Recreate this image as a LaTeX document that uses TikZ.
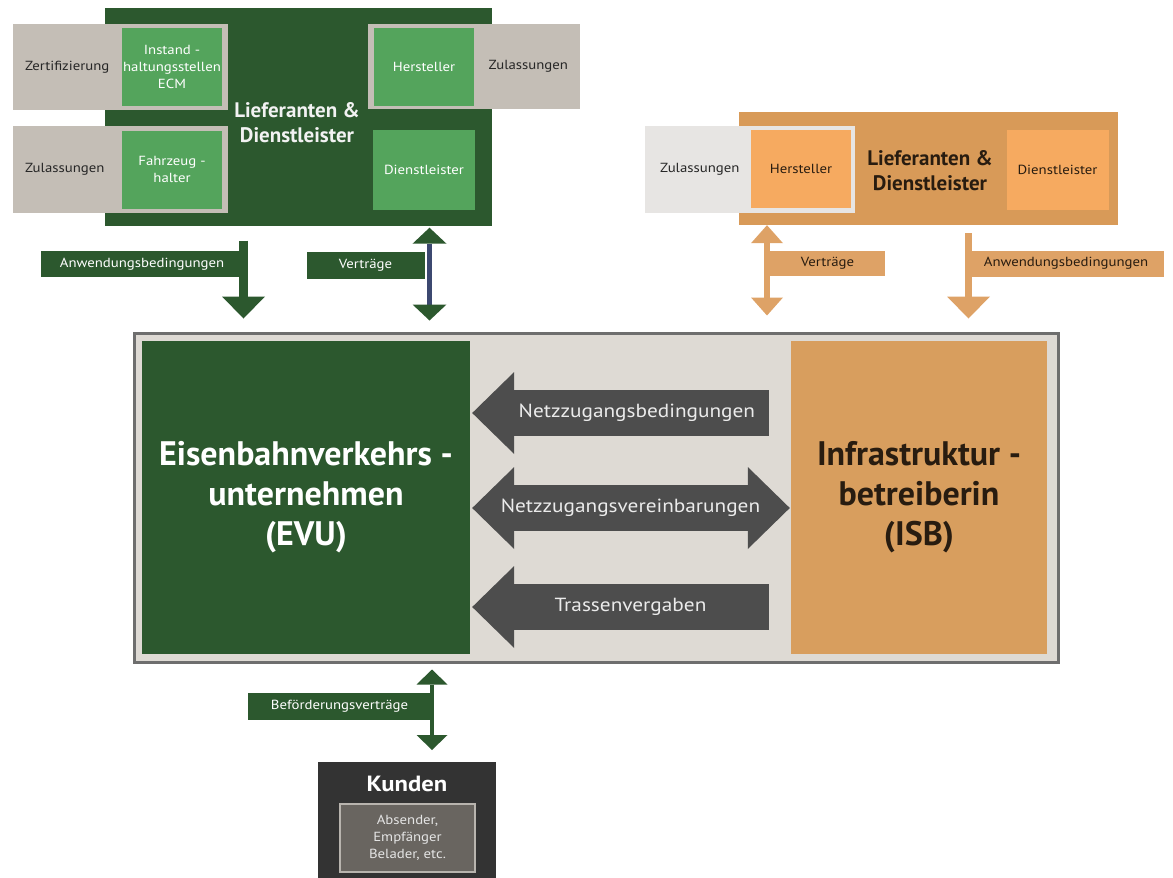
\documentclass[tikz,border=0pt]{standalone}
\usepackage{fontspec}
\setmainfont{PT Sans}
\newfontfamily\widesans{PT Sans}[FakeStretch=1.12]
\usetikzlibrary{arrows.meta}

\definecolor{dgreen}{RGB}{44,88,46}
\definecolor{lgreen}{RGB}{84,164,92}
\definecolor{gbox}{RGB}{196,190,182}
\definecolor{gboxL}{RGB}{231,229,227}
\definecolor{navy}{RGB}{60,72,112}
\definecolor{oblock}{RGB}{216,154,88}
\definecolor{lorange}{RGB}{246,170,96}
\definecolor{isbor}{RGB}{216,158,94}
\definecolor{oarrow}{RGB}{222,162,102}
\definecolor{otext}{RGB}{40,28,16}
\definecolor{frfill}{RGB}{222,218,212}
\definecolor{frline}{RGB}{110,110,110}
\definecolor{agrey}{RGB}{77,77,77}
\definecolor{kgrey}{RGB}{51,51,51}
\definecolor{kin}{RGB}{105,101,96}
\definecolor{kbd}{RGB}{184,180,174}

\newcommand{\fsmall}{\widesans\fontsize{13.2}{17}\selectfont}
\newcommand{\fmid}{\widesans\fontsize{19}{22}\selectfont}
\newcommand{\ftitle}{\fontsize{21}{25}\selectfont\bfseries}
\newcommand{\fkunden}{\widesans\fontsize{22}{25}\selectfont\bfseries}
\newcommand{\fbig}{\fontsize{34}{40}\selectfont\bfseries}

\begin{document}
\begin{tikzpicture}[x=1pt,y=-1pt,
    box/.style={rectangle,inner sep=0pt,align=center},
    greybox/.style={box,fill=gbox,font=\fsmall,text=black!85,inner xsep=12pt},
    lgbox/.style={box,fill=lgreen,draw=gbox,line width=2pt,text=white,font=\fsmall,minimum width=102,minimum height=80},
    lobox/.style={box,fill=lorange,text=otext,font=\fsmall,minimum width=102,minimum height=80},
    glabel/.style={box,fill=dgreen,text=white,font=\fsmall,minimum height=26},
    olabel/.style={box,fill=oarrow,text=otext,font=\fsmall,minimum height=26},
    mlabel/.style={text=white!92!black,font=\fmid},
    mtip/.tip={Triangle[width=82pt,length=42pt,line width=0pt]},
    marrow/.style={draw=agrey,line width=46pt}]
\useasboundingbox (0,0) rectangle (1173,878);

% Lieferanten & Dienstleister (EVU-Seite)
\node[box,fill=dgreen,minimum width=387,minimum height=218] (liefG) at (298.5,116.5) {};
\node[greybox,text width=191pt,minimum height=86,align=left] (zert) at (120.5,67) {Zertifizierung};
\node[greybox,text width=191pt,minimum height=87,align=left] (zul1) at (120.5,169.5) {Zulassungen};
\node[greybox,text width=188pt,minimum height=85,align=right] (zul2) at (474,66.5) {Zulassungen};
\node[lgbox] (ecm) at (172,67) {Instand -\\haltungsstellen\\ECM};
\node[lgbox] (halter) at (172,169.5) {Fahrzeug -\\halter};
\node[lgbox] (herstG) at (424,67) {Hersteller};
\node[lgbox,draw=none] (dienstG) at (424,169.5) {Dienstleister};
\node[box,text=white!95!black,font=\ftitle] (liefGt) at (297,123) {Lieferanten \&\\Dienstleister};

% Lieferanten & Dienstleister (ISB-Seite)
\node[box,fill=oblock,minimum width=379,minimum height=113] (liefO) at (928.5,168.5) {};
\node[greybox,fill=gboxL,inner xsep=15pt,text width=180pt,minimum height=87,align=left] (zul3) at (750,169.5) {Zulassungen};
\node[lobox,draw=gboxL,line width=2pt] (herstO) at (801,169) {Hersteller};
\node[lobox] (dienstO) at (1057.5,169.5) {Dienstleister};
\node[box,text=otext,font=\ftitle] (liefOt) at (930,171) {Lieferanten \&\\Dienstleister};

% EVU und ISB
\node[box,fill=frfill,draw=frline,line width=3pt,minimum width=924,minimum height=329] (rahmen) at (596,497.5) {};
\node[box,fill=dgreen,text=white,font=\fbig,minimum width=328,minimum height=313] (evu) at (306,497.5) {Eisenbahnverkehrs -\\unternehmen\\(EVU)};
\node[box,fill=isbor,text=otext,font=\fbig,minimum width=256,minimum height=313] (isb) at (919,497.5) {Infrastruktur -\\betreiberin\\(ISB)};

% Kunden
\node[box,fill=kgrey,minimum width=178,minimum height=122,anchor=north] (kunden) at (407,762) {};
\node[box,text=white,font=\fkunden] (kundenT) at (407,784) {Kunden};
\node[box,fill=kin,draw=kbd,line width=1.5pt,minimum width=135,minimum height=68,text=white!90!black,font=\fsmall] (kundenI) at (407.5,838) {Absender,\\Empf\"anger\\Belader, etc.};

\coordinate (r1) at (0,413);
\coordinate (r2) at (0,508);
\coordinate (r3) at (0,607);
\coordinate (ca1) at (243.5,0);
\coordinate (cv1) at (429.5,0);
\coordinate (cv2) at (767,0);
\coordinate (ca2) at (968.5,0);
\coordinate (cb) at (432,0);

% Pfeile zwischen EVU und ISB
\draw[marrow,-mtip,shorten <=22pt,shorten >=2pt] (isb.west |- r1) -- (evu.east |- r1)
  node[mlabel,pos=0.48] {Netzzugangsbedingungen};
\draw[marrow,mtip-mtip,shorten <=2pt,shorten >=1pt] (evu.east |- r2) -- (isb.west |- r2)
  node[mlabel,pos=0.5] {Netzzugangsvereinbarungen};
\draw[marrow,-mtip,shorten <=22pt,shorten >=2pt] (isb.west |- r3) -- (evu.east |- r3)
  node[mlabel,pos=0.5] {Trassenvergaben};

% Pfeile oben
\draw[dgreen,line width=9pt,-{Triangle[width=43pt,length=22pt,line width=0pt]},shorten <=15pt,shorten >=13pt]
  (liefG.south -| ca1) -- (rahmen.north -| ca1)
  node[glabel,pos=0.361,anchor=east,xshift=4.5pt,minimum width=203] {Anwendungsbedingungen};
\draw[navy,line width=5pt,{Triangle[width=34pt,length=16pt,line width=0pt,color=dgreen]}-{Triangle[width=34pt,length=16pt,line width=0pt,color=dgreen]},shorten <=2pt,shorten >=11pt]
  (liefG.south -| cv1) -- (rahmen.north -| cv1)
  node[glabel,pos=0.375,anchor=east,xshift=-2.5pt,minimum width=118,minimum height=27] {Vertr\"age};
\draw[oarrow,line width=6pt,{Triangle[width=32pt,length=18pt,line width=0pt]}-{Triangle[width=32pt,length=18pt,line width=0pt]},shorten <=16pt]
  (rahmen.north -| cv2) -- (liefO.south -| cv2)
  node[olabel,pos=0.644,anchor=west,minimum width=115,minimum height=25] {Vertr\"age};
\draw[oarrow,line width=7pt,-{Triangle[width=43pt,length=22pt,line width=0pt]},shorten <=8pt,shorten >=13pt]
  (liefO.south -| ca2) -- (rahmen.north -| ca2)
  node[olabel,pos=0.361,anchor=west,xshift=-3.5pt,minimum width=195] {Anwendungsbedingungen};

% Pfeil unten
\draw[dgreen,line width=4pt,{Triangle[width=31pt,length=15pt,line width=0pt]}-{Triangle[width=31pt,length=15pt,line width=0pt]},shorten <=6pt,shorten >=12pt]
  (rahmen.south -| cb) -- (kunden.north -| cb)
  node[glabel,pos=0.435,anchor=east,xshift=1pt,minimum width=183,minimum height=27] {Bef\"orderungsvertr\"age};
\end{tikzpicture}
\end{document}
